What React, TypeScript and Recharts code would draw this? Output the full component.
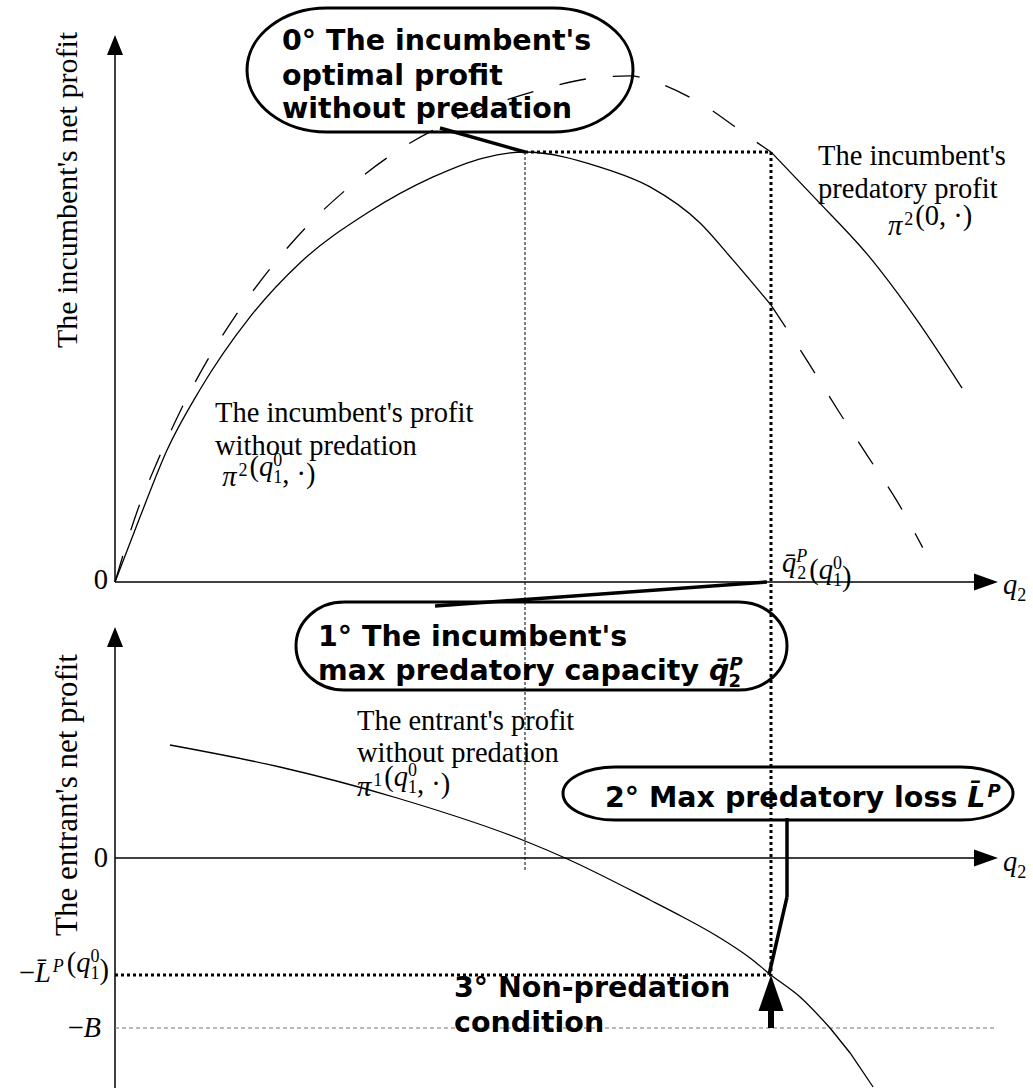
import React from "react";
import {
  ComposedChart,
  Line,
  XAxis,
  YAxis,
  ReferenceLine,
  ReferenceDot,
  ReferenceArea,
} from "recharts";

const W = 1033;
const H = 1088;

// figure layout: q2 origin, zero of each panel and units per pixel
const ORIGIN_X = 115;
const PX_PER_Q = 41;
const TOP_ZERO = 582;
const PX_PER_PI2 = 43;
const BOT_ZERO = 858;
const PX_PER_PI1 = 20;

// key levels of the model
const Q_OPT = 10; // incumbent's optimal q2 without predation
const Q_BAR = 16; // max predatory capacity
const PI2_OPT = 10; // optimal profit without predation
const L_BAR = -5.85; // max predatory loss
const B_LEVEL = -8.5;

// incumbent's profit without predation, pi2(q1^0, .)
const incumbentQ = [0, 0.61, 1.27, 2.07, 3.29, 4.51, 6.15, 7.76, 8.98, 10, 11.83, 13.05, 14.27, 15.07, 16];
const incumbentPi = [0, 1.51, 3.07, 4.47, 6.16, 7.42, 8.58, 9.42, 9.86, 10, 9.65, 9.19, 8.35, 7.49, 6.44];
const incumbentTailQ = [16, 16.9, 17.63, 18.37, 19.1, 19.7];
const incumbentTailPi = [6.44, 5.12, 4.0, 2.91, 1.84, 0.8];

// incumbent's predatory profit, pi2(0, .)
const predatoryQ = [0, 0.55, 1.05, 1.62, 2.28, 3.0, 3.82, 4.72, 5.73, 6.83, 8.17, 9.39, 10.61, 11.83, 12.56, 13.17, 14.39, 15.49, 16];
const predatoryPi = [0, 1.67, 2.84, 4.03, 5.2, 6.28, 7.33, 8.31, 9.2, 9.99, 10.7, 11.16, 11.51, 11.74, 11.77, 11.63, 11.07, 10.33, 10];
const predatoryTailQ = [16, 17.12, 18.34, 19.56, 20.66];
const predatoryTailPi = [10, 8.88, 7.63, 6.09, 4.51];

// entrant's profit without predation, pi1(q1^0, .)
const entrantQ = [1.34, 4.02, 6.88, 10, 10.98, 13.05, 13.85, 14.68, 15.49, 16, 16.71, 17.44];
const entrantPi = [5.65, 4.55, 3.0, 0.85, 0, -2.1, -2.95, -3.9, -5.0, -5.85, -6.95, -8.5];
const entrantTailQ = [17.44, 17.93, 18.49];
const entrantTailPi = [-8.5, -9.75, -11.45];

const zip = (qs: number[], vs: number[]) => qs.map((q, i) => ({ q, v: vs[i] }));

// annotation placement helpers (page pixels -> chart values)
const qAt = (x: number) => (x - ORIGIN_X) / PX_PER_Q;
const vAt = (y: number) => (TOP_ZERO - y) / PX_PER_PI2;
const wAt = (y: number) => (BOT_ZERO - y) / PX_PER_PI1;
const wToV = (w: number) => vAt(BOT_ZERO - w * PX_PER_PI1);

const SERIF = "'Liberation Serif', 'Times New Roman', serif";
const SANS = "'DejaVu Sans', Verdana, sans-serif";
const FS = 28.5;
const SM = 18;

const it = (s: string) => <tspan fontStyle="italic">{s}</tspan>;

// stacked superscript / subscript after a letter
const supSub = (sup: string, sub: string, w = 9, italicSup = false) => (
  <>
    <tspan dy={-10} fontSize={SM} fontStyle={italicSup ? "italic" : undefined}>
      {sup}
    </tspan>
    <tspan dx={-w} dy={17} fontSize={SM}>
      {sub}
    </tspan>
    <tspan dy={-7}>{""}</tspan>
  </>
);

const sup = (s: string, italic = false) => (
  <>
    <tspan dx={2} dy={-10} fontSize={SM} fontStyle={italic ? "italic" : undefined}>
      {s}
    </tspan>
    <tspan dy={10}>{""}</tspan>
  </>
);

const piOf = (k: string, inner: React.ReactNode) => (
  <>
    {it("π")}
    {sup(k)}
    <tspan dx={2}>(</tspan>
    {inner}
    <tspan>)</tspan>
  </>
);

const q10 = (
  <>
    {it("q")}
    {supSub("0", "1")}
  </>
);

const textShape =
  (lines: React.ReactNode[], offsets: number[], opts: { anchor?: string; font?: string; bold?: boolean; size?: number } = {}) =>
  (p: any) => (
    <text
      x={p.cx}
      y={p.cy}
      fontFamily={opts.font ?? SERIF}
      fontWeight={opts.bold ? "bold" : "normal"}
      fontSize={opts.size ?? FS}
      textAnchor={opts.anchor ?? "start"}
      fill="#000"
    >
      {lines.map((ln, i) => (
        <tspan key={i} x={p.cx} y={p.cy + (offsets[i] ?? 0)}>
          {ln}
        </tspan>
      ))}
    </text>
  );

const rotatedText = (s: string, size: number) => (p: any) => (
  <text
    x={p.cx}
    y={p.cy}
    transform={`rotate(-90 ${p.cx} ${p.cy})`}
    textAnchor="middle"
    fontFamily={SERIF}
    fontSize={size}
    fill="#000"
  >
    {s}
  </text>
);

const arrowUp = (len: number, half: number) => (p: any) => (
  <path d={`M${p.cx},${p.cy} L${p.cx - half},${p.cy + len} L${p.cx + half},${p.cy + len} Z`} fill="#000" />
);
const arrowRight = (len: number, half: number) => (p: any) => (
  <path d={`M${p.cx},${p.cy} L${p.cx - len},${p.cy - half} L${p.cx - len},${p.cy + half} Z`} fill="#000" />
);

const bubble =
  (rx: number, ry: number, dx: number, baselines: number[], lines: React.ReactNode[]) => (p: any) => (
    <g>
      <rect x={p.x} y={p.y} width={p.width} height={p.height} rx={rx} ry={ry} fill="#fff" stroke="#000" strokeWidth={3} />
      <text fontFamily={SANS} fontWeight="bold" fontSize={FS} fill="#000">
        {lines.map((ln, i) => (
          <tspan key={i} x={p.x + dx} y={p.y + baselines[i]}>
            {ln}
          </tspan>
        ))}
      </text>
    </g>
  );

const qBarBold = (
  <>
    <tspan fontStyle="italic">{"q\u0304"}</tspan>
    {supSub("P", "2", 14, true)}
  </>
);

const curve = { stroke: "#000", strokeWidth: 1.3, dot: false, activeDot: false, isAnimationActive: false } as const;

export default function App() {
  const axis = { stroke: "#000", strokeWidth: 1.5, ifOverflow: "visible" as const };
  const thick = { stroke: "#000", strokeWidth: 3.5, ifOverflow: "visible" as const };
  const dotted = { stroke: "#000", strokeWidth: 3, strokeDasharray: "3 3", ifOverflow: "visible" as const };
  return (
    <div style={{ position: "absolute", left: 0, top: 0, width: W, height: H, background: "#fff" }}>
      <ComposedChart width={W} height={H} margin={{ top: 0, right: 0, bottom: 0, left: 0 }}>
        <XAxis type="number" dataKey="q" domain={[qAt(0), qAt(W)]} hide allowDataOverflow />
        <YAxis yAxisId="top" type="number" domain={[vAt(H), vAt(0)]} hide allowDataOverflow />
        <YAxis yAxisId="bot" type="number" domain={[wAt(H), wAt(0)]} hide allowDataOverflow />

        {/* axes */}
        <ReferenceLine yAxisId="top" segment={[{ x: 0, y: 0 }, { x: 0, y: vAt(50) }]} {...axis} />
        <ReferenceLine yAxisId="top" segment={[{ x: 0, y: 0 }, { x: qAt(980), y: 0 }]} {...axis} />
        <ReferenceLine yAxisId="bot" segment={[{ x: 0, y: wAt(H) }, { x: 0, y: wAt(642) }]} {...axis} />
        <ReferenceLine yAxisId="bot" segment={[{ x: 0, y: 0 }, { x: qAt(980), y: 0 }]} {...axis} />

        {/* guide lines */}
        <ReferenceLine
          yAxisId="top"
          segment={[{ x: Q_OPT, y: PI2_OPT }, { x: Q_OPT, y: wToV(-0.6) }]}
          stroke="#000"
          strokeWidth={1}
          strokeDasharray="3 2"
          ifOverflow="visible"
        />
        <ReferenceLine
          yAxisId="bot"
          segment={[{ x: 0, y: B_LEVEL }, { x: qAt(997), y: B_LEVEL }]}
          stroke="#777"
          strokeWidth={1.2}
          strokeDasharray="4 3"
          ifOverflow="visible"
        />

        <Line yAxisId="top" data={zip(incumbentQ, incumbentPi)} dataKey="v" type="monotone" {...curve} />
        <Line yAxisId="top" data={zip(incumbentTailQ, incumbentTailPi)} dataKey="v" type="monotone" strokeDasharray="27 27" {...curve} />
        <Line yAxisId="top" data={zip(predatoryQ, predatoryPi)} dataKey="v" type="monotone" strokeDasharray="27 27" {...curve} />
        <Line yAxisId="top" data={zip(predatoryTailQ, predatoryTailPi)} dataKey="v" type="monotone" {...curve} />
        <Line yAxisId="bot" data={zip(entrantQ, entrantPi)} dataKey="v" type="monotone" {...curve} />
        <Line yAxisId="bot" data={zip(entrantTailQ, entrantTailPi)} dataKey="v" type="linear" {...curve} />

        {/* thick dotted construction */}
        <ReferenceLine yAxisId="top" segment={[{ x: Q_OPT, y: PI2_OPT }, { x: Q_BAR, y: PI2_OPT }]} {...dotted} />
        <ReferenceLine yAxisId="top" segment={[{ x: Q_BAR, y: PI2_OPT }, { x: Q_BAR, y: wToV(L_BAR) }]} {...dotted} />
        <ReferenceLine yAxisId="bot" segment={[{ x: 0, y: L_BAR }, { x: Q_BAR, y: L_BAR }]} {...dotted} />

        {/* callout pointers */}
        <ReferenceLine yAxisId="top" segment={[{ x: qAt(440), y: vAt(128) }, { x: Q_OPT, y: PI2_OPT }]} {...thick} />
        <ReferenceLine yAxisId="top" segment={[{ x: qAt(435), y: vAt(606) }, { x: Q_BAR - 0.1, y: 0 }]} {...thick} />
        <ReferenceLine yAxisId="top" segment={[{ x: qAt(787), y: vAt(818) }, { x: qAt(787), y: vAt(897) }]} {...thick} />
        <ReferenceLine yAxisId="top" segment={[{ x: qAt(787), y: vAt(897) }, { x: Q_BAR - 0.05, y: wToV(L_BAR) }]} {...thick} />
        <ReferenceLine yAxisId="bot" segment={[{ x: Q_BAR, y: B_LEVEL }, { x: Q_BAR, y: wAt(1010) }]} stroke="#000" strokeWidth={6} ifOverflow="visible" />

        {/* bubbles */}
        <ReferenceArea
          yAxisId="top"
          x1={qAt(247)}
          x2={qAt(633)}
          y1={vAt(132)}
          y2={vAt(8)}
          ifOverflow="visible"
          shape={bubble(80, 62, 35, [42, 77, 110], ["0° The incumbent's", "optimal profit", "without predation"])}
        />
        <ReferenceArea
          yAxisId="top"
          x1={qAt(296)}
          x2={qAt(787)}
          y1={vAt(690)}
          y2={vAt(602)}
          ifOverflow="visible"
          shape={bubble(48, 44, 22, [44, 78], ["1° The incumbent's", <>max predatory capacity {qBarBold}</>])}
        />
        <ReferenceArea
          yAxisId="top"
          x1={qAt(563)}
          x2={qAt(1013)}
          y1={vAt(820)}
          y2={vAt(767)}
          ifOverflow="visible"
          shape={bubble(52, 26.5, 42, [40], [
            <>
              2° Max predatory loss <tspan fontStyle="italic">{"L\u0304"}</tspan>
              {sup("P", true)}
            </>,
          ])}
        />

        {/* arrow heads */}
        <ReferenceDot yAxisId="top" x={0} y={vAt(35)} r={1} ifOverflow="visible" shape={arrowUp(20, 8)} />
        <ReferenceDot yAxisId="bot" x={0} y={wAt(627)} r={1} ifOverflow="visible" shape={arrowUp(20, 8)} />
        <ReferenceDot yAxisId="top" x={qAt(998)} y={0} r={1} ifOverflow="visible" shape={arrowRight(24, 8.5)} />
        <ReferenceDot yAxisId="bot" x={qAt(998)} y={0} r={1} ifOverflow="visible" shape={arrowRight(24, 8.5)} />
        <ReferenceDot yAxisId="bot" x={Q_BAR} y={L_BAR} r={1} ifOverflow="visible" shape={arrowUp(36, 12.5)} />

        {/* texts */}
        <ReferenceDot yAxisId="top" x={qAt(77)} y={vAt(190)} r={1} ifOverflow="visible" shape={rotatedText("The incumbent's net profit", 30)} />
        <ReferenceDot yAxisId="top" x={qAt(77)} y={vAt(795)} r={1} ifOverflow="visible" shape={rotatedText("The entrant's net profit", 31)} />
        <ReferenceDot yAxisId="top" x={qAt(108)} y={vAt(589)} r={1} ifOverflow="visible" shape={textShape(["0"], [0], { anchor: "end" })} />
        <ReferenceDot yAxisId="top" x={qAt(108)} y={vAt(867)} r={1} ifOverflow="visible" shape={textShape(["0"], [0], { anchor: "end" })} />
        <ReferenceDot yAxisId="top" x={qAt(1003)} y={vAt(594)} r={1} ifOverflow="visible" shape={textShape([<>{it("q")}<tspan dy={7} fontSize={SM}>2</tspan></>], [0])} />
        <ReferenceDot yAxisId="top" x={qAt(1003)} y={vAt(871)} r={1} ifOverflow="visible" shape={textShape([<>{it("q")}<tspan dy={7} fontSize={SM}>2</tspan></>], [0])} />
        <ReferenceDot
          yAxisId="top"
          x={qAt(782)}
          y={vAt(572)}
          r={1}
          ifOverflow="visible"
          shape={textShape([<>{it("q\u0304")}{supSub("P", "2", 10, true)}<tspan dx={3}>(</tspan>{q10}<tspan>)</tspan></>], [0])}
        />
        <ReferenceDot
          yAxisId="top"
          x={qAt(109)}
          y={vAt(982)}
          r={1}
          ifOverflow="visible"
          shape={textShape([<>−{it("L\u0304")}{sup("P", true)}<tspan dx={3}>(</tspan>{q10}<tspan>)</tspan></>], [0], { anchor: "end" })}
        />
        <ReferenceDot yAxisId="top" x={qAt(101)} y={vAt(1037)} r={1} ifOverflow="visible" shape={textShape([<>−{it("B")}</>], [0], { anchor: "end" })} />

        <ReferenceDot
          yAxisId="top"
          x={qAt(215)}
          y={vAt(422)}
          r={1}
          ifOverflow="visible"
          shape={textShape(["The incumbent's profit", "without predation", <> {piOf("2", <>{q10}, ·</>)}</>], [0, 33, 64])}
        />
        <ReferenceDot
          yAxisId="top"
          x={qAt(818)}
          y={vAt(165)}
          r={1}
          ifOverflow="visible"
          shape={textShape(["The incumbent's", "predatory profit", <tspan dx={70}>{piOf("2", <>0, ·</>)}</tspan>], [0, 33, 70])}
        />
        <ReferenceDot
          yAxisId="top"
          x={qAt(357)}
          y={vAt(730)}
          r={1}
          ifOverflow="visible"
          shape={textShape(["The entrant's profit", "without predation", piOf("1", <>{q10}, ·</>)], [0, 32, 66])}
        />
        <ReferenceDot
          yAxisId="top"
          x={qAt(454)}
          y={vAt(997)}
          r={1}
          ifOverflow="visible"
          shape={textShape(["3° Non-predation", "condition"], [0, 35], { font: SANS, bold: true })}
        />
      </ComposedChart>
    </div>
  );
}
